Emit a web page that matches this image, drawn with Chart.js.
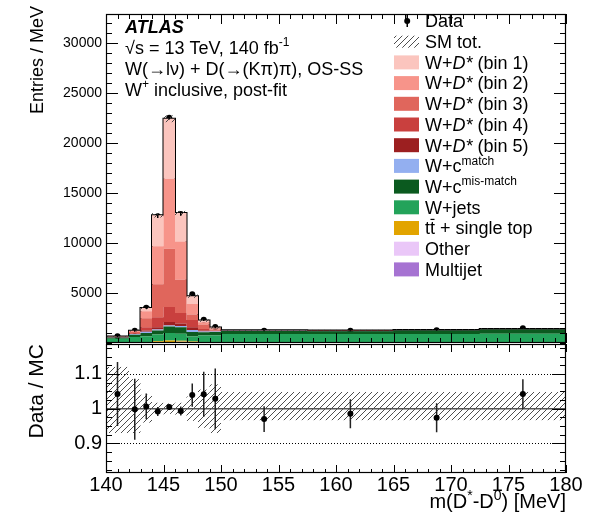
<!DOCTYPE html>
<html>
<head>
<meta charset="utf-8">
<title>m(D*-D0) W+ inclusive post-fit</title>
<script src="https://cdn.jsdelivr.net/npm/chart.js"></script>
<style>
    html, body { margin: 0; padding: 0; background: #fff; }
    #wrap { position: relative; width: 596px; height: 524px; }
    #topPad { position: absolute; left: 0; top: 0; }
    #ratioPad { position: absolute; left: 0; top: 344px; }
</style>
</head>
<body>
<div id="wrap">
    <canvas id="topPad" width="596" height="344" style="width:596px;height:344px"></canvas>
    <canvas id="ratioPad" width="596" height="180" style="width:596px;height:180px"></canvas>
</div>
<script>
    "use strict";

    // Bin edges in MeV, values are entries / MeV
    var edges = [140, 142, 143, 144, 145, 146, 147, 148, 149, 150, 157.5, 165, 172.5, 180];
    var dataVals = [667, 1233, 3533, 12667, 22533, 12900, 4867, 2333, 1600, 1233, 1233, 1267, 1467];
    var dataErr = [59, 108, 131, 165, 180, 168, 156, 145, 136, 47, 52, 54, 60];

    var multijet = [10, 10, 15, 30, 40, 50, 30, 20, 20, 6, 6, 6, 6];
    var other = [10, 15, 20, 40, 50, 80, 80, 30, 20, 10, 10, 10, 8];
    var ttbar = [10, 15, 25, 100, 170, 100, 30, 20, 20, 15, 15, 15, 14];
    var wjets = [390, 560, 620, 670, 733, 700, 500, 670, 686, 880, 860, 880, 900];
    var wcMisMatch = [100, 230, 330, 400, 667, 640, 467, 330, 350, 280, 290, 330, 420];
    var wcMatch = [40, 60, 120, 100, 100, 120, 200, 70, 50, 30, 30, 30, 30];
    var dstBin5 = [5, 20, 120, 230, 330, 250, 267, 100, 40, 10, 8, 6, 6];
    var dstBin4 = [10, 60, 330, 1000, 1500, 1050, 733, 170, 70, 10, 8, 6, 6];
    var dstBin3 = [20, 120, 900, 3300, 5830, 3330, 533, 430, 100, 10, 8, 6, 6];
    var dstBin2 = [25, 100, 700, 3800, 7000, 3830, 1067, 230, 100, 10, 8, 6, 6];
    var dstBin1 = [20, 45, 330, 3100, 6000, 2840, 777, 170, 100, 10, 8, 6, 6];

    // relative SM uncertainty (up / down)
    var bandUp = [0.12, 0.085, 0.04, 0.017, 0.015, 0.017, 0.035, 0.055, 0.07, 0.048, 0.048, 0.048, 0.048];
    var bandDn = [0.07, 0.07, 0.04, 0.017, 0.015, 0.017, 0.035, 0.055, 0.07, 0.033, 0.033, 0.033, 0.033];

    var yTicks = [5000, 10000, 15000, 20000, 25000, 30000];
    var ratioTicks = [0.9, 1, 1.1];
    var xTicks = [140, 145, 150, 155, 160, 165, 170, 175, 180];

    var FONT = '"Liberation Sans", Arial, Helvetica, sans-serif';

    // stacking order: first one sits at the bottom
    var components = [
        { vals: multijet, color: '#a673d2' },
        { vals: other, color: '#eac7f8' },
        { vals: ttbar, color: '#e2a400' },
        { vals: wjets, color: '#23a35a' },
        { vals: wcMisMatch, color: '#0b5a1f' },
        { vals: wcMatch, color: '#93aff0' },
        { vals: dstBin5, color: '#9c1f20' },
        { vals: dstBin4, color: '#c9403e' },
        { vals: dstBin3, color: '#e0665c' },
        { vals: dstBin2, color: '#f7948a' },
        { vals: dstBin1, color: '#fbc5be' }
    ];

    var total = edges.slice(0, -1).map(function (e, i) {
        return components.reduce(function (s, c) { return s + c.vals[i]; }, 0);
    });
    var centres = edges.slice(0, -1).map(function (e, i) { return (e + edges[i + 1]) / 2; });

    var steps = function (vals) {
        var pts = vals.map(function (v, i) { return { x: edges[i], y: v }; });
        pts.push({ x: edges[edges.length - 1], y: vals[vals.length - 1] });
        return pts;
    };

    var hatch = function (ctx) {
        var c = document.createElement('canvas');
        c.width = 6; c.height = 6;
        var g = c.getContext('2d');
        g.strokeStyle = '#3a3a3a';
        g.lineWidth = 0.9;
        g.beginPath();
        g.moveTo(0, 6); g.lineTo(6, 0);
        g.moveTo(-1, 1); g.lineTo(1, -1);
        g.moveTo(5, 7); g.lineTo(7, 5);
        g.stroke();
        return ctx.createPattern(c, 'repeat');
    };

    // text with italic / superscript / overlined pieces
    var richText = function (ctx, x, y, parts, size, align) {
        var setFont = function (st) {
            var s = st === 'sup' ? Math.round(size * 0.68) : size;
            var pre = st === 'i' ? 'italic ' : (st === 'bi' ? 'italic bold ' : '');
            ctx.font = pre + s + 'px ' + FONT;
        };
        var w = 0;
        parts.forEach(function (p) { setFont(p[1]); w += ctx.measureText(p[0]).width; });
        if (align === 'right') x -= w;
        ctx.textAlign = 'left';
        ctx.textBaseline = 'alphabetic';
        parts.forEach(function (p) {
            setFont(p[1]);
            var tw = ctx.measureText(p[0]).width;
            ctx.fillText(p[0], x, y + (p[1] === 'sup' ? -size * 0.42 : 0));
            if (p[1] === 'bar') {
                ctx.fillRect(x + 0.5, y - size * 0.86, tw - 1, 1.2);
            }
            x += tw;
        });
    };

    // ROOT style frame with ticks pointing inwards
    var drawFrame = function (chart, yMajor, yMinorStep, lens) {
        var ctx = chart.ctx, a = chart.chartArea;
        var xs = chart.scales.x, ys = chart.scales.y;
        ctx.save();
        ctx.strokeStyle = '#000';
        ctx.lineWidth = 1;
        ctx.beginPath();
        var v, px, len;
        for (v = xs.min; v <= xs.max + 1e-9; v += 1) {
            px = Math.round(xs.getPixelForValue(v)) + 0.5;
            len = v % 5 === 0 ? lens.xMaj : lens.xMin;
            ctx.moveTo(px, a.bottom); ctx.lineTo(px, a.bottom - len);
            ctx.moveTo(px, a.top); ctx.lineTo(px, a.top + len);
        }
        var first = Math.ceil(ys.min / yMinorStep) * yMinorStep;
        for (v = first; v <= ys.max + 1e-9; v += yMinorStep) {
            var major = yMajor.some(function (t) { return Math.abs(t - v) < yMinorStep / 10; });
            px = Math.round(ys.getPixelForValue(v)) + 0.5;
            len = major ? lens.yMaj : lens.yMin;
            ctx.moveTo(a.left, px); ctx.lineTo(a.left + len, px);
            ctx.moveTo(a.right, px); ctx.lineTo(a.right - len, px);
        }
        ctx.stroke();
        ctx.lineWidth = 1.2;
        ctx.strokeRect(a.left + 0.5, a.top + 0.5, a.right - a.left - 1, a.bottom - a.top - 1);
        ctx.restore();
    };

    var legendRows = [
        { kind: 'data', text: [['Data', '']] },
        { kind: 'band', text: [['SM tot.', '']] },
        { kind: 10, text: [['W+', ''], ['D*', 'i'], [' (bin 1)', '']] },
        { kind: 9, text: [['W+', ''], ['D*', 'i'], [' (bin 2)', '']] },
        { kind: 8, text: [['W+', ''], ['D*', 'i'], [' (bin 3)', '']] },
        { kind: 7, text: [['W+', ''], ['D*', 'i'], [' (bin 4)', '']] },
        { kind: 6, text: [['W+', ''], ['D*', 'i'], [' (bin 5)', '']] },
        { kind: 5, text: [['W+c', ''], ['match', 'sup']] },
        { kind: 4, text: [['W+c', ''], ['mis-match', 'sup']] },
        { kind: 3, text: [['W+jets', '']] },
        { kind: 2, text: [['t', ''], ['t', 'bar'], [' + single top', '']] },
        { kind: 1, text: [['Other', '']] },
        { kind: 0, text: [['Multijet', '']] }
    ];

    var atlasLines = [
        [['ATLAS', 'bi']],
        [['\u221As = 13 TeV, 140 fb', ''], ['-1', 'sup']],
        [['W(\u2192l\u03BD) + D(\u2192(K\u03C0)\u03C0), OS-SS', '']],
        [['W', ''], ['+', 'sup'], [' inclusive, post-fit', '']]
    ];

    var topPlugin = {
        id: 'topDecor',
        afterDatasetsDraw: function (chart) {
            var ctx = chart.ctx, xs = chart.scales.x, ys = chart.scales.y, a = chart.chartArea;
            ctx.save();
            ctx.beginPath();
            ctx.rect(a.left, a.top, a.right - a.left, a.bottom - a.top);
            ctx.clip();
            ctx.fillStyle = hatch(ctx);
            total.forEach(function (t, i) {
                var x0 = xs.getPixelForValue(edges[i]), x1 = xs.getPixelForValue(edges[i + 1]);
                var y0 = ys.getPixelForValue(t * (1 + bandUp[i])), y1 = ys.getPixelForValue(t * (1 - bandDn[i]));
                ctx.fillRect(x0, y0, x1 - x0, y1 - y0);
            });
            ctx.strokeStyle = '#000';
            ctx.lineWidth = 1.5;
            ctx.beginPath();
            dataVals.forEach(function (d, i) {
                var px = xs.getPixelForValue(centres[i]);
                ctx.moveTo(px, ys.getPixelForValue(d - dataErr[i]));
                ctx.lineTo(px, ys.getPixelForValue(d + dataErr[i]));
            });
            ctx.stroke();
            ctx.restore();
        },
        afterDraw: function (chart) {
            var ctx = chart.ctx;
            drawFrame(chart, yTicks, 1000, { xMaj: 10, xMin: 5, yMaj: 12, yMin: 6 });
            ctx.save();
            ctx.fillStyle = '#000';

            ctx.translate(43, 6);
            ctx.rotate(-Math.PI / 2);
            richText(ctx, 0, 0, [['Entries / MeV', '']], 18, 'right');
            ctx.setTransform(1, 0, 0, 1, 0, 0);

            atlasLines.forEach(function (line, i) {
                richText(ctx, 125, 33 + i * 21, line, 18);
            });

            legendRows.forEach(function (row, i) {
                var cy = 21 + i * 20.7;
                if (row.kind === 'data') {
                    ctx.fillRect(406.5, cy - 6, 1.5, 12);
                    ctx.beginPath();
                    ctx.arc(407.2, cy, 3, 0, Math.PI * 2);
                    ctx.fill();
                } else if (row.kind === 'band') {
                    ctx.fillStyle = hatch(ctx);
                    ctx.fillRect(394, cy - 6, 25, 12);
                    ctx.fillStyle = '#000';
                } else {
                    ctx.fillStyle = components[row.kind].color;
                    ctx.fillRect(394, cy - 7, 25, 14);
                    ctx.fillStyle = '#000';
                }
                richText(ctx, 425, cy + 6.3, row.text, 18);
            });
            ctx.restore();
        }
    };

    var mcSets = components.map(function (c, i) {
        return {
            data: steps(c.vals),
            stepped: true,
            fill: i === 0 ? 'origin' : '-1',
            backgroundColor: c.color,
            borderColor: 'rgba(0,0,0,0)',
            borderWidth: 0,
            pointRadius: 0,
            stack: 'mc'
        };
    });

    mcSets.push({
        data: steps(total),
        stepped: true,
        fill: false,
        borderColor: '#000',
        borderWidth: 2,
        pointRadius: 0,
        stack: 'tot'
    });

    mcSets.push({
        data: dataVals.map(function (d, i) { return { x: centres[i], y: d }; }),
        showLine: false,
        pointRadius: 3,
        pointBackgroundColor: '#000',
        pointBorderColor: '#000',
        pointBorderWidth: 0,
        stack: 'data'
    });

    new Chart(document.getElementById('topPad'), {
        type: 'line',
        data: { datasets: mcSets },
        options: {
            responsive: false,
            animation: false,
            layout: { autoPadding: false, padding: { left: 0, right: 30, top: 14, bottom: 1 } },
            plugins: { legend: { display: false }, tooltip: { enabled: false } },
            scales: {
                x: { type: 'linear', min: 140, max: 180, display: false },
                y: {
                    stacked: true,
                    min: 0,
                    max: 32900,
                    afterFit: function (s) { s.width = 106; s.paddingTop = 0; s.paddingBottom = 0; },
                    afterBuildTicks: function (s) { s.ticks = yTicks.map(function (v) { return { value: v }; }); },
                    grid: { display: false, drawTicks: false },
                    border: { display: false },
                    ticks: {
                        padding: 4,
                        color: '#000',
                        font: { family: FONT, size: 14 },
                        callback: function (v) { return String(v); }
                    }
                }
            }
        },
        plugins: [topPlugin]
    });

    // ratio pad
    var ratio = dataVals.map(function (d, i) { return d / total[i]; });
    var ratioErr = dataErr.map(function (e, i) { return e / total[i]; });

    var ratioPlugin = {
        id: 'ratioDecor',
        beforeDatasetsDraw: function (chart) {
            var ctx = chart.ctx, xs = chart.scales.x, ys = chart.scales.y, a = chart.chartArea;
            ctx.save();
            ctx.beginPath();
            ctx.rect(a.left, a.top, a.right - a.left, a.bottom - a.top);
            ctx.clip();
            ctx.fillStyle = hatch(ctx);
            total.forEach(function (t, i) {
                var x0 = xs.getPixelForValue(edges[i]), x1 = xs.getPixelForValue(edges[i + 1]);
                var y0 = ys.getPixelForValue(1 + bandUp[i]), y1 = ys.getPixelForValue(1 - bandDn[i]);
                ctx.fillRect(x0, y0, x1 - x0, y1 - y0);
            });

            ctx.strokeStyle = '#000';
            ctx.lineWidth = 1;
            ctx.setLineDash([1, 2]);
            ctx.beginPath();
            [0.9, 1.1].forEach(function (v) {
                var py = Math.round(ys.getPixelForValue(v)) + 0.5;
                ctx.moveTo(a.left, py); ctx.lineTo(a.right, py);
            });
            ctx.stroke();
            ctx.setLineDash([]);

            ctx.strokeStyle = '#555';
            ctx.lineWidth = 1.5;
            ctx.beginPath();
            ctx.moveTo(a.left, ys.getPixelForValue(1));
            ctx.lineTo(a.right, ys.getPixelForValue(1));
            ctx.stroke();

            ctx.strokeStyle = '#222';
            ctx.lineWidth = 1.5;
            ctx.beginPath();
            ratio.forEach(function (r, i) {
                var px = xs.getPixelForValue(centres[i]);
                ctx.moveTo(px, ys.getPixelForValue(r - ratioErr[i]));
                ctx.lineTo(px, ys.getPixelForValue(r + ratioErr[i]));
            });
            ctx.stroke();
            ctx.restore();
        },
        afterDraw: function (chart) {
            var ctx = chart.ctx;
            drawFrame(chart, ratioTicks, 0.025, { xMaj: 8, xMin: 4, yMaj: 14, yMin: 6 });
            ctx.save();
            ctx.fillStyle = '#000';
            ctx.translate(43, 0);
            ctx.rotate(-Math.PI / 2);
            richText(ctx, 0, 0, [['Data / MC', '']], 21, 'right');
            ctx.setTransform(1, 0, 0, 1, 0, 0);
            richText(ctx, 566, 164, [['m(D', ''], ['*', 'sup'], ['-D', ''], ['0', 'sup'], [') [MeV]', '']], 20, 'right');
            ctx.restore();
        }
    };

    new Chart(document.getElementById('ratioPad'), {
        type: 'line',
        data: {
            datasets: [{
                data: ratio.map(function (r, i) { return { x: centres[i], y: r }; }),
                showLine: false,
                pointRadius: 3,
                pointBackgroundColor: '#000',
                pointBorderColor: '#000',
                pointBorderWidth: 0
            }]
        },
        options: {
            responsive: false,
            animation: false,
            layout: { autoPadding: false, padding: { left: 0, right: 30, top: 0, bottom: 0 } },
            plugins: { legend: { display: false }, tooltip: { enabled: false } },
            scales: {
                x: {
                    type: 'linear',
                    min: 140,
                    max: 180,
                    afterFit: function (s) { s.height = 51; s.paddingLeft = 0; s.paddingRight = 0; },
                    afterBuildTicks: function (s) { s.ticks = xTicks.map(function (v) { return { value: v }; }); },
                    grid: { display: false, drawTicks: false },
                    border: { display: false },
                    ticks: {
                        padding: 0,
                        maxRotation: 0,
                        autoSkip: false,
                        color: '#000',
                        font: { family: FONT, size: 20 },
                        callback: function (v) { return String(v); }
                    }
                },
                y: {
                    min: 0.815,
                    max: 1.186,
                    afterFit: function (s) { s.width = 106; s.paddingTop = 0; s.paddingBottom = 0; },
                    afterBuildTicks: function (s) { s.ticks = ratioTicks.map(function (v) { return { value: v }; }); },
                    grid: { display: false, drawTicks: false },
                    border: { display: false },
                    ticks: {
                        padding: 4,
                        color: '#000',
                        font: { family: FONT, size: 20 },
                        callback: function (v) { return String(v); }
                    }
                }
            }
        },
        plugins: [ratioPlugin]
    });
</script>
</body>
</html>
